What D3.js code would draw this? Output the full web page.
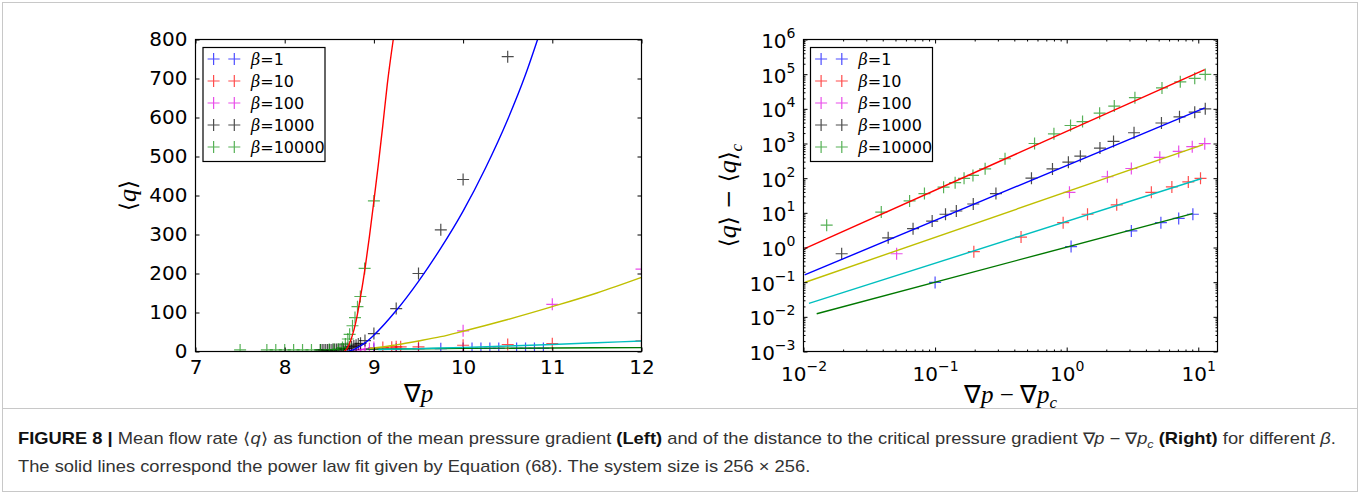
<!DOCTYPE html>
<html>
<head>
<meta charset="utf-8">
<script src="https://cdn.jsdelivr.net/npm/d3@7"></script>
<style>
  body { margin: 0; background: #fff; }
  svg { font-family: "DejaVu Sans", sans-serif; }
</style>
</head>
<body>
<svg id="fig" width="1360" height="494"></svg>
<script>
// ---- data ----
var betas = ["1", "10", "100", "1000", "10000"];

// left panel: <q> against grad p
var leftB1 = [[9.0,6],[9.25,6],[9.5,7],[9.75,7],[10.0,8],[10.1,8],[10.2,8],[10.3,8],[10.4,8],[10.6,8],[10.7,8],[10.8,8],[10.9,8]];
var leftB10 = [[9.1,10],[9.2,11],[9.25,12],[9.3,12],[9.5,12],[10.0,16],[10.5,18],[11.0,20],[12.0,27]];
var leftB100 = [[8.8,4],[8.85,5],[8.9,6],[8.95,7],[9.0,10],[10.0,53],[11.0,121],[12.0,211]];
var leftB1000 = [[8.40,4],[8.42,4],[8.44,4],[8.46,4],[8.48,4],[8.50,4],[8.52,4],[8.54,5],[8.56,5],[8.58,5],[8.60,5],[8.62,5],[8.64,6],[8.66,6],[8.68,7],
  [8.70,8],[8.725,11],[8.75,12],[8.775,14],[8.80,16],[8.825,19],[8.85,21],[8.90,28],[9.0,46],[9.25,110],[9.5,200],[9.75,312],[10.0,441],[10.5,756]];
var leftB10000 = [[7.5,4],[7.8,4],[7.9,4],[8.0,4],[8.1,4],[8.2,4],[8.3,4],[8.4,4],[8.5,5],[8.55,5],[8.6,6],[8.648,10],[8.68,19],[8.708,32],
  [8.728,44],[8.76,66],[8.788,87],[8.816,115],[8.848,141],[8.896,213],[9.0,386]];

// left panel fit curves
var leftFitRed = [[8.67,0],[8.70,8],[8.75,35],[8.80,78],[8.85,140],[8.90,212],[8.95,295],[9.0,386],[9.05,480],[9.1,580],[9.15,685],[9.217,800]];
var leftFitBlue = [[8.70,0],[8.75,3],[8.8,8],[8.9,22],[9.0,42],[9.25,105],[9.5,180],[9.75,265],[10.0,360],[10.25,470],[10.5,595],[10.7,710],[10.835,800]];
var leftFitYellow = [[8.95,8],[9.0,9],[9.25,17],[9.5,27],[9.75,38],[10.0,52],[10.5,82],[11.0,115],[11.5,150],[12.0,190]];
var leftFitCyan = [[9.05,5],[9.5,7.5],[10.0,10.5],[10.5,14],[11.0,18],[11.5,22.5],[12.0,27]];
var leftFitGreen = [[8.91,6],[9.5,7],[10.0,8],[11.0,9],[12.0,10]];

// right panel: <q>-<q>_c against grad p - grad p_c
var rightB1 = [[0.1,0.098],[1.08,1.06],[3.1,3.0],[5.2,5.2],[7.1,6.9],[9.1,9.1]];
var rightB10 = [[0.197,0.76],[0.45,2.0],[0.94,5.2],[1.44,9.1],[2.4,17],[4.4,39],[6.3,56],[8.4,78],[10.4,99]];
var rightB100 = [[0.051,0.66],[1.05,39],[2.04,110],[3.1,190],[5.1,400],[7.1,590],[9.0,810],[11.2,990]];
var rightB1000 = [[0.0195,0.66],[0.044,1.9],[0.068,3.5],[0.095,5.8],[0.12,9.1],[0.145,11.3],[0.195,18],[0.29,36],[0.54,100],[0.78,185],
  [1.03,290],[1.27,430],[1.79,740],[2.27,1150],[3.25,2040],[5.25,3900],[7.2,5900],[9.4,8000],[11.3,10000]];
var rightB10000 = [[0.015,4.4],[0.039,10.5],[0.064,22],[0.083,36],[0.116,55],[0.142,74],[0.166,99],[0.194,120],[0.24,186],[0.34,363],
  [0.57,1000],[0.8,1900],[1.07,3300],[1.32,4300],[1.78,7500],[2.3,12000],[3.3,21000],[5.3,40000],[7.3,60000],[9.4,76000],[11.3,98000]];

// right panel fit lines (end points)
var rightFitRed = [[0.0102,0.93],[11.2,136000]];
var rightFitBlue = [[0.0102,0.162],[11.2,10700]];
var rightFitYellow = [[0.0102,0.098],[10.9,930]];
var rightFitCyan = [[0.011,0.0245],[10.6,98]];
var rightFitGreen = [[0.0126,0.0123],[9.06,9.5]];

var leftTicksX = [7, 8, 9, 10, 11, 12];
var leftTicksY = [0, 100, 200, 300, 400, 500, 600, 700, 800];
var rightTicksX = [1e-2, 1e-1, 1e0, 1e1];
var rightTicksY = [1e-3, 1e-2, 1e-1, 1e0, 1e1, 1e2, 1e3, 1e4, 1e5, 1e6];

// ---- styles / layout ----
var markerColors = ["#0000ff", "#ff0000", "#e000e0", "#000000", "#109010"];
var fitColors = { red: "#ff0000", blue: "#0000ff", yellow: "#bfbf00", cyan: "#00bfbf", green: "#007800" };

var svg = d3.select("#fig");
var L = { x0: 195.5, x1: 641.5, y0: 39.5, y1: 351.5 };
var R = { x0: 803.5, x1: 1217.5, y0: 39.5, y1: 351.5 };

var xL = d3.scaleLinear().domain([7, 12]).range([L.x0, L.x1]);
var yL = d3.scaleLinear().domain([0, 800]).range([L.y1, L.y0]);
var xR = d3.scaleLog().domain([0.01, 14]).range([R.x0, R.x1]);
var yR = d3.scaleLog().domain([1e-3, 1e6]).range([R.y1, R.y0]);

var crossPath = "M-6,0H6M0,-6V6";

// figure frame
svg.append("rect").attr("x", 2.5).attr("y", 2.5).attr("width", 1355).attr("height", 489)
  .attr("fill", "none").attr("stroke", "#c8c8c8");
svg.append("line").attr("x1", 2.5).attr("x2", 1357.5).attr("y1", 408.5).attr("y2", 408.5)
  .attr("stroke", "#c8c8c8");

function addClip(id, P) {
  svg.append("clipPath").attr("id", id).append("rect")
    .attr("x", P.x0).attr("y", P.y0).attr("width", P.x1 - P.x0).attr("height", P.y1 - P.y0);
}
addClip("clipL", L);
addClip("clipR", R);

function drawMarkers(g, series, xs, ys) {
  series.forEach(function(pts, i) {
    g.selectAll(null).data(pts).enter().append("path")
      .attr("d", crossPath)
      .attr("transform", function(d) { return "translate(" + xs(d[0]) + "," + ys(d[1]) + ")"; })
      .attr("stroke", markerColors[i])
      .attr("stroke-opacity", 0.7)
      .attr("stroke-width", 1.2)
      .attr("fill", "none");
  });
}

function drawFits(g, fits, xs, ys, curve) {
  var line = d3.line().x(function(d) { return xs(d[0]); }).y(function(d) { return ys(d[1]); }).curve(curve);
  fits.forEach(function(f) {
    g.append("path").datum(f.pts).attr("d", line)
      .attr("fill", "none").attr("stroke", f.color).attr("stroke-width", 1.4);
  });
}

function drawLegend(x, y) {
  var g = svg.append("g").attr("transform", "translate(" + x + "," + y + ")");
  g.append("rect").attr("x", 0).attr("y", 0).attr("width", 122).attr("height", 114)
    .attr("fill", "#fff").attr("stroke", "#000").attr("stroke-width", 1.2);
  betas.forEach(function(b, i) {
    var cy = 11.5 + i * 22;
    [10.6, 31.3].forEach(function(cx) {
      g.append("path").attr("d", crossPath).attr("transform", "translate(" + cx + "," + cy + ")")
        .attr("stroke", markerColors[i]).attr("stroke-opacity", 0.7).attr("stroke-width", 1.2);
    });
    var t = g.append("text").attr("x", 48).attr("y", cy + 6).attr("font-size", 16)
      .attr("font-family", "DejaVu Sans").attr("fill", "#000");
    t.append("tspan").attr("font-family", "DejaVu Serif").attr("font-style", "italic").text("β");
    t.append("tspan").text("=" + b);
  });
}

function frame(P) {
  svg.append("rect").attr("x", P.x0).attr("y", P.y0).attr("width", P.x1 - P.x0).attr("height", P.y1 - P.y0)
    .attr("fill", "none").attr("stroke", "#000").attr("stroke-width", 1.2);
}

function styleAxis(g) {
  g.select(".domain").remove();
  g.selectAll(".tick line").attr("stroke", "#000");
  g.selectAll("text").attr("font-family", "DejaVu Sans").attr("font-size", 20).attr("fill", "#000");
}

// ---------- left panel ----------
var gL = svg.append("g").attr("clip-path", "url(#clipL)");
drawMarkers(gL, [leftB1, leftB10, leftB100, leftB1000, leftB10000], xL, yL);
drawFits(gL, [
  { pts: leftFitGreen, color: fitColors.green },
  { pts: leftFitCyan, color: fitColors.cyan },
  { pts: leftFitYellow, color: fitColors.yellow },
  { pts: leftFitBlue, color: fitColors.blue },
  { pts: leftFitRed, color: fitColors.red }
], xL, yL, d3.curveMonotoneX);

svg.append("g").attr("transform", "translate(0," + L.y1 + ")")
  .call(d3.axisBottom(xL).tickValues(leftTicksX).tickSizeInner(-4).tickSizeOuter(0).tickPadding(8).tickFormat(d3.format("d")))
  .call(styleAxis);
svg.append("g").attr("transform", "translate(0," + L.y0 + ")")
  .call(d3.axisTop(xL).tickValues(leftTicksX).tickSizeInner(-4).tickSizeOuter(0).tickFormat(""))
  .call(styleAxis);
svg.append("g").attr("transform", "translate(" + L.x0 + ",0)")
  .call(d3.axisLeft(yL).tickValues(leftTicksY).tickSizeInner(-4).tickSizeOuter(0).tickPadding(8).tickFormat(d3.format("d")))
  .call(styleAxis);
svg.append("g").attr("transform", "translate(" + L.x1 + ",0)")
  .call(d3.axisRight(yL).tickValues(leftTicksY).tickSizeInner(-4).tickSizeOuter(0).tickFormat(""))
  .call(styleAxis);
frame(L);
drawLegend(L.x0 + 7.5, 47.5);

// axis labels
var xlabL = svg.append("text").attr("x", (L.x0 + L.x1) / 2).attr("y", 402).attr("text-anchor", "middle")
  .attr("font-family", "Liberation Serif").attr("font-size", 25).attr("fill", "#000");
xlabL.append("tspan").text("∇");
xlabL.append("tspan").attr("font-style", "italic").text("p");

var ylabL = svg.append("text").attr("transform", "translate(136," + (L.y0 + L.y1) / 2 + ") rotate(-90)")
  .attr("text-anchor", "middle").attr("font-family", "DejaVu Serif").attr("font-size", 23).attr("fill", "#000");
ylabL.append("tspan").text("⟨");
ylabL.append("tspan").attr("font-family", "Liberation Serif").attr("font-style", "italic").attr("font-size", 26).text("q");
ylabL.append("tspan").text("⟩");

// ---------- right panel ----------
var gR = svg.append("g").attr("clip-path", "url(#clipR)");
drawMarkers(gR, [rightB1, rightB10, rightB100, rightB1000, rightB10000], xR, yR);
drawFits(gR, [
  { pts: rightFitGreen, color: fitColors.green },
  { pts: rightFitCyan, color: fitColors.cyan },
  { pts: rightFitYellow, color: fitColors.yellow },
  { pts: rightFitBlue, color: fitColors.blue },
  { pts: rightFitRed, color: fitColors.red }
], xR, yR, d3.curveLinear);

function minorTicks(major, domain) {
  var out = [];
  major.forEach(function(m) {
    for (var k = 2; k <= 9; k++) {
      var v = m * k;
      if (v > domain[0] && v < domain[1]) out.push(v);
    }
  });
  return out;
}
var minorX = minorTicks([1e-2, 1e-1, 1e0, 1e1], xR.domain());
var minorY = minorTicks(rightTicksY, yR.domain());

function powLabel(sel, dyBase) {
  sel.each(function(d) {
    var t = d3.select(this);
    var e = Math.round(Math.log10(d));
    t.text("");
    t.append("tspan").attr("dy", dyBase).text("10");
    t.append("tspan").attr("font-size", 14).attr("dy", -10).text(e < 0 ? "−" + (-e) : String(e));
  });
}

var axBR = svg.append("g").attr("transform", "translate(0," + R.y1 + ")")
  .call(d3.axisBottom(xR).tickValues(rightTicksX).tickSizeInner(-4).tickSizeOuter(0).tickPadding(0).tickFormat(function(d) { return d; }))
  .call(styleAxis);
axBR.selectAll(".tick text").attr("dy", null).attr("y", 0).call(powLabel, 29);
svg.append("g").attr("transform", "translate(0," + R.y1 + ")")
  .call(d3.axisBottom(xR).tickValues(minorX).tickSizeInner(-2).tickSizeOuter(0).tickFormat(""))
  .call(styleAxis);
svg.append("g").attr("transform", "translate(0," + R.y0 + ")")
  .call(d3.axisTop(xR).tickValues(rightTicksX).tickSizeInner(-4).tickSizeOuter(0).tickFormat(""))
  .call(styleAxis);
svg.append("g").attr("transform", "translate(0," + R.y0 + ")")
  .call(d3.axisTop(xR).tickValues(minorX).tickSizeInner(-2).tickSizeOuter(0).tickFormat(""))
  .call(styleAxis);

var axLR = svg.append("g").attr("transform", "translate(" + R.x0 + ",0)")
  .call(d3.axisLeft(yR).tickValues(rightTicksY).tickSizeInner(-4).tickSizeOuter(0).tickPadding(8).tickFormat(function(d) { return d; }))
  .call(styleAxis);
axLR.selectAll(".tick text").attr("dy", null).call(powLabel, 8);
svg.append("g").attr("transform", "translate(" + R.x0 + ",0)")
  .call(d3.axisLeft(yR).tickValues(minorY).tickSizeInner(-2).tickSizeOuter(0).tickFormat(""))
  .call(styleAxis);
svg.append("g").attr("transform", "translate(" + R.x1 + ",0)")
  .call(d3.axisRight(yR).tickValues(rightTicksY).tickSizeInner(-4).tickSizeOuter(0).tickFormat(""))
  .call(styleAxis);
svg.append("g").attr("transform", "translate(" + R.x1 + ",0)")
  .call(d3.axisRight(yR).tickValues(minorY).tickSizeInner(-2).tickSizeOuter(0).tickFormat(""))
  .call(styleAxis);
frame(R);
drawLegend(R.x0 + 7, 47.5);

var xlabR = svg.append("text").attr("x", (R.x0 + R.x1) / 2).attr("y", 403).attr("text-anchor", "middle")
  .attr("font-family", "Liberation Serif").attr("font-size", 25).attr("fill", "#000");
xlabR.append("tspan").text("∇");
xlabR.append("tspan").attr("font-style", "italic").text("p");
xlabR.append("tspan").text(" − ∇");
xlabR.append("tspan").attr("font-style", "italic").text("p");
xlabR.append("tspan").attr("font-style", "italic").attr("font-size", 17).attr("dy", 5).text("c");

var ylabR = svg.append("text").attr("transform", "translate(736," + (R.y0 + R.y1) / 2 + ") rotate(-90)")
  .attr("text-anchor", "middle").attr("font-family", "DejaVu Serif").attr("font-size", 23).attr("fill", "#000");
ylabR.append("tspan").text("⟨");
ylabR.append("tspan").attr("font-family", "Liberation Serif").attr("font-style", "italic").attr("font-size", 26).text("q");
ylabR.append("tspan").text("⟩ − ⟨");
ylabR.append("tspan").attr("font-family", "Liberation Serif").attr("font-style", "italic").attr("font-size", 26).text("q");
ylabR.append("tspan").text("⟩");
ylabR.append("tspan").attr("font-family", "Liberation Serif").attr("font-style", "italic").attr("font-size", 17).attr("dy", 6).text("c");

// ---------- caption ----------
var captionLine1 = [
  { t: "FIGURE 8 | ", b: true }, { t: "Mean flow rate ⟨" }, { t: "q", i: true }, { t: "⟩ as function of the mean pressure gradient " },
  { t: "(Left)", b: true }, { t: " and of the distance to the critical pressure gradient ∇" }, { t: "p", i: true }, { t: " − ∇" },
  { t: "p", i: true }, { t: "c", i: true, sub: true }, { t: " " }, { t: "(Right)", b: true }, { t: " for different " }, { t: "β", i: true }, { t: "." }
];
var captionLine2 = [
  { t: "The solid lines correspond the power law fit given by Equation (68). The system size is 256 × 256." }
];

var cap = svg.append("g");
function captionText(parts, y) {
  var t = cap.append("text").attr("x", 0).attr("y", y)
    .attr("font-family", "Liberation Sans Narrow, Liberation Sans, Arial, sans-serif")
    .attr("font-size", 16).attr("fill", "#333");
  var shifted = false;
  parts.forEach(function(p) {
    var s = t.append("tspan").text(p.t);
    if (p.b) s.attr("font-weight", "bold").attr("fill", "#111");
    if (p.i) s.attr("font-style", "italic");
    if (p.sub) { s.attr("font-size", 11).attr("dy", 4); shifted = true; }
    else if (shifted) { s.attr("dy", -4); shifted = false; }
  });
  return t;
}
var c1 = captionText(captionLine1, 444);
captionText(captionLine2, 472);
var natural = c1.node().getComputedTextLength();
var sx = 1320 / natural;
cap.attr("transform", "translate(18,0) scale(" + sx + ",1)");
</script>
</body>
</html>
